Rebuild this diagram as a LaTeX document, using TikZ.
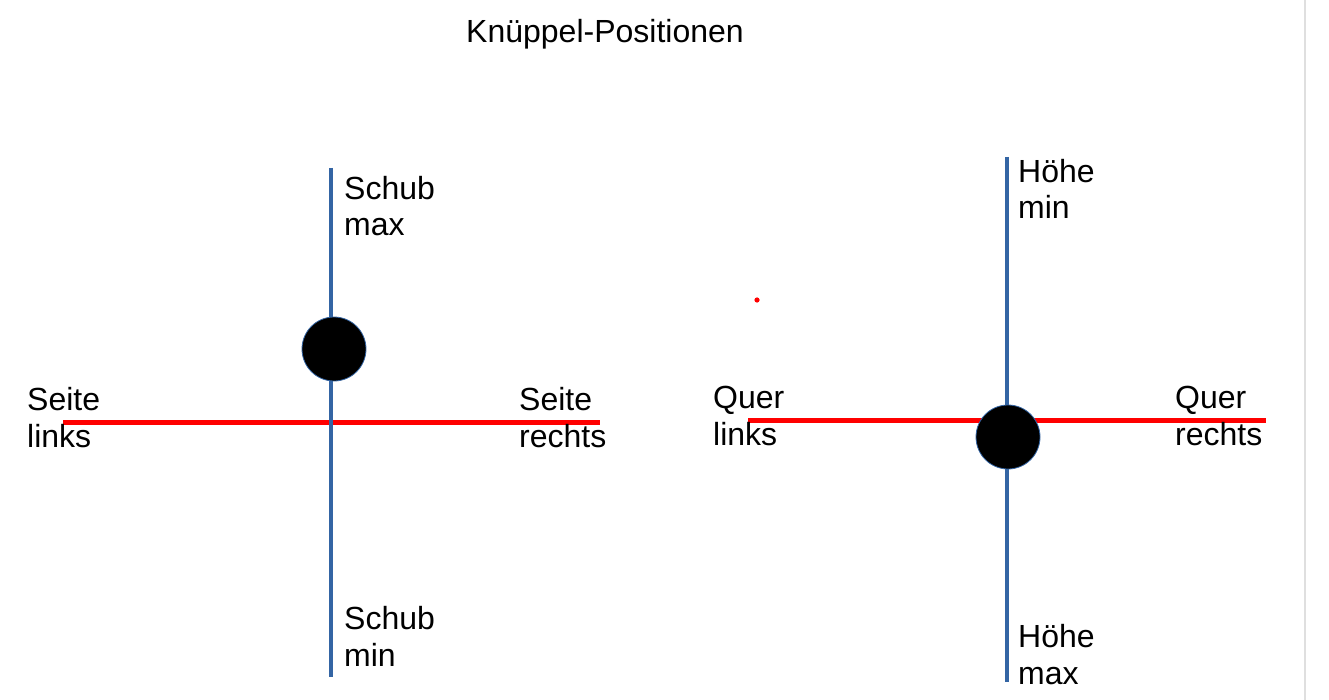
\documentclass[tikz,border=0pt]{standalone}
\usepackage{fontspec}
\setmainfont{Liberation Sans}
\usepackage{tikz}
\usetikzlibrary{positioning}
\definecolor{stickblue}{RGB}{52,101,164}
\tikzset{
  axisv/.style={draw=stickblue, line width=4.5pt},
  axish/.style={draw=red, line width=5pt},
  knob/.style={circle, draw=stickblue, line width=0.8pt, fill=black, minimum size=64pt, inner sep=0pt},
  lbl/.style={anchor=base west, align=left, inner sep=0pt, font=\fontsize{32}{36.5}\selectfont}
}

\begin{document}
\begin{tikzpicture}[x=1pt, y=-1pt]
                % page and frame
                \fill[white] (0,0) rectangle (1329,700);
                \useasboundingbox (0,0) rectangle (1329,700);
                \draw[gray!25, line width=2pt] (1305,0) -- (1305,700);

                % title
                \node[lbl] (title) at (466,43) {Knüppel-Positionen};

                % left stick: Seite / Schub
                \coordinate (seiteL) at (63,422);
                \coordinate (seiteR) at (600,422);
                \coordinate (schubT) at (331,168);
                \coordinate (schubB) at (331,677);
                \draw[axish] (seiteL) -- (seiteR);
                \draw[axisv] (schubT) -- (schubB);
                \node[knob] (knobL) at (334,349) {};
                % labels sit on the baseline of their last line
                \node[lbl] (schubmax) at (344,236) {Schub\\max};
                \node[lbl] (schubmin) at (344,666) {Schub\\min};
                \node[lbl] (seitelinks) at (27,447) {Seite\\links};
                \node[lbl] (seiterechts) at (519,447) {Seite\\rechts};

                % stray dot
                \fill[red] (757,300) circle (2.6pt);

                % right stick: Quer / Hoehe
                \coordinate (querL) at (748,420);
                \coordinate (querR) at (1266,420);
                \coordinate (hoeheT) at (1007,157);
                \coordinate (hoeheB) at (1007,682);
                \draw[axish] (querL) -- (querR);
                \draw[axisv] (hoeheT) -- (hoeheB);
                \node[knob] (knobR) at (1008,437) {};
                \node[lbl] (hoehemin) at (1018,219) {Höhe\\min};
                \node[lbl] (hoehemax) at (1018,684) {Höhe\\max};
                \node[lbl] (querlinks) at (713,445) {Quer\\links};
                \node[lbl] (querrechts) at (1175,445) {Quer\\rechts};
            \end{tikzpicture}
\end{document}
